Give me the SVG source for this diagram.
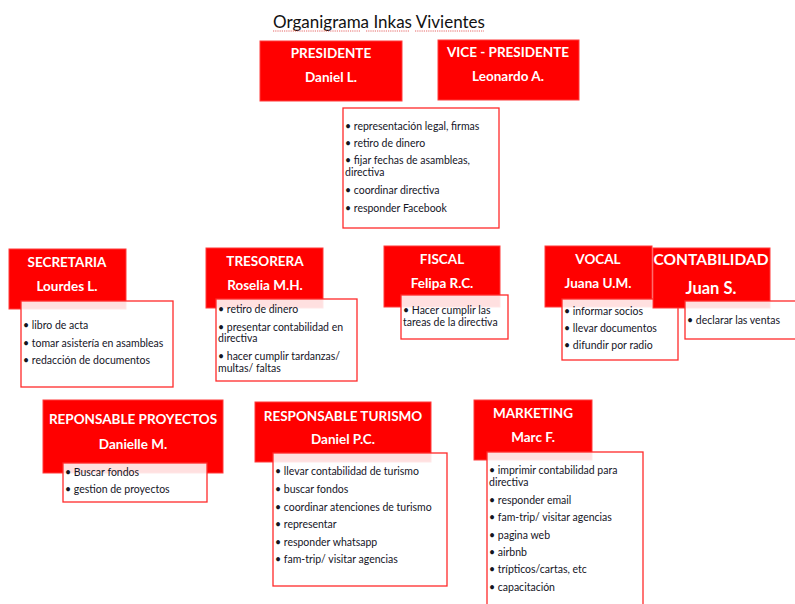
<svg xmlns="http://www.w3.org/2000/svg" width="795" height="604" viewBox="0 0 795 604">
  <style>
    .hdr { fill: #ff0000; stroke: #ff3b3b; stroke-width: 1; }
    .ht { font-family: Lato, "Open Sans", "Liberation Sans", sans-serif; font-weight: bold; font-size: 13.5px; fill: #ffffff; text-anchor: middle; }
    .lst { fill: #ffffff; fill-opacity: 0.88; stroke: #ff2a2a; stroke-width: 1.3; }
    .lt { font-family: Lato, "Open Sans", "Liberation Sans", sans-serif; font-size: 10.5px; fill: #15151f; }
    .title { font-family: Lato, "Open Sans", "Liberation Sans", sans-serif; font-size: 17px; fill: #111111; }
    .squig { fill: none; stroke: #e04040; stroke-width: 0.8; stroke-dasharray: 1.2 1; }
  </style>

  <!-- title -->
  <g id="title">
    <text class="title" x="273" y="28">Organigrama Inkas Vivientes</text>
    <line class="squig" x1="273" y1="31" x2="360" y2="31"/>
    <line class="squig" x1="366" y1="31" x2="410" y2="31"/>
    <line class="squig" x1="415" y1="31" x2="484" y2="31"/>
  </g>

  <!-- top level -->
  <g id="presidente">
    <rect class="hdr" x="260" y="41" width="142" height="60"/>
    <text class="ht" x="331" y="58">PRESIDENTE</text>
    <text class="ht" x="331" y="82">Daniel L.</text>
  </g>
  <g id="vicepresidente">
    <rect class="hdr" x="438" y="40" width="141" height="60"/>
    <text class="ht" x="508" y="57">VICE - PRESIDENTE</text>
    <text class="ht" x="508" y="81">Leonardo A.</text>
  </g>
  <g id="presidencia-tareas">
    <rect class="lst" x="343" y="108" width="156" height="120"/>
    <text class="lt" x="345" y="130">• representación legal, firmas</text>
    <text class="lt" x="345" y="147">• retiro de dinero</text>
    <text class="lt" x="345" y="164">• fijar fechas de asambleas,</text>
    <text class="lt" x="345" y="176">directiva</text>
    <text class="lt" x="345" y="194">• coordinar directiva</text>
    <text class="lt" x="345" y="212">• responder Facebook</text>
  </g>

  <!-- second level -->
  <g id="secretaria">
    <rect class="hdr" x="9" y="249" width="117" height="60"/>
    <text class="ht" x="67" y="267">SECRETARIA</text>
    <text class="ht" x="67" y="291">Lourdes L.</text>
    <rect class="lst" x="21" y="301" width="152" height="86"/>
    <text class="lt" x="23" y="329">• libro de acta</text>
    <text class="lt" x="23" y="347">• tomar asistería en asambleas</text>
    <text class="lt" x="23" y="364">• redacción de documentos</text>
  </g>
  <g id="tresorera">
    <rect class="hdr" x="206" y="248" width="117" height="60"/>
    <text class="ht" x="265" y="266">TRESORERA</text>
    <text class="ht" x="265" y="290">Roselia M.H.</text>
    <rect class="lst" x="216" y="299" width="141" height="82"/>
    <text class="lt" x="218" y="313">• retiro de dinero</text>
    <text class="lt" x="218" y="331">• presentar contabilidad en</text>
    <text class="lt" x="218" y="342">directiva</text>
    <text class="lt" x="218" y="360">• hacer cumplir tardanzas/</text>
    <text class="lt" x="218" y="372">multas/ faltas</text>
  </g>
  <g id="fiscal">
    <rect class="hdr" x="384" y="246" width="116" height="61"/>
    <text class="ht" x="442" y="264">FISCAL</text>
    <text class="ht" x="442" y="288">Felipa R.C.</text>
    <rect class="lst" x="401" y="295" width="107" height="44"/>
    <text class="lt" x="403" y="314">• Hacer cumplir las</text>
    <text class="lt" x="403" y="326">tareas de la directiva</text>
  </g>
  <g id="vocal">
    <rect class="hdr" x="545" y="246" width="107" height="61"/>
    <text class="ht" x="598" y="264">VOCAL</text>
    <text class="ht" x="598" y="288">Juana U.M.</text>
    <rect class="lst" x="562" y="299" width="116" height="61"/>
    <text class="lt" x="564" y="315">• informar socios</text>
    <text class="lt" x="564" y="332">• llevar documentos</text>
    <text class="lt" x="564" y="349">• difundir por radio</text>
  </g>
  <g id="contabilidad">
    <rect class="hdr" x="653" y="248" width="117" height="60"/>
    <text class="ht" x="711" y="265" style="font-size:15.5px">CONTABILIDAD</text>
    <text class="ht" x="711" y="294" style="font-size:16.5px">Juan S.</text>
    <rect class="lst" x="685" y="301" width="115" height="38"/>
    <text class="lt" x="687" y="324">• declarar las ventas</text>
  </g>

  <!-- third level -->
  <g id="proyectos">
    <rect class="hdr" x="43" y="400" width="180" height="73"/>
    <text class="ht" x="133" y="424">REPONSABLE PROYECTOS</text>
    <text class="ht" x="133" y="449">Danielle M.</text>
    <rect class="lst" x="63" y="463" width="144" height="39"/>
    <text class="lt" x="65" y="476">• Buscar fondos</text>
    <text class="lt" x="65" y="493">• gestion de proyectos</text>
  </g>
  <g id="turismo">
    <rect class="hdr" x="255" y="402" width="176" height="60"/>
    <text class="ht" x="343" y="421">RESPONSABLE TURISMO</text>
    <text class="ht" x="343" y="444">Daniel P.C.</text>
    <rect class="lst" x="273" y="453" width="174" height="133"/>
    <text class="lt" x="275" y="475">• llevar contabilidad de turismo</text>
    <text class="lt" x="275" y="493">• buscar fondos</text>
    <text class="lt" x="275" y="511">• coordinar atenciones de turismo</text>
    <text class="lt" x="275" y="528">• representar</text>
    <text class="lt" x="275" y="546">• responder whatsapp</text>
    <text class="lt" x="275" y="563">• fam-trip/ visitar agencias</text>
  </g>
  <g id="marketing">
    <rect class="hdr" x="474" y="400" width="118" height="60"/>
    <text class="ht" x="533" y="418">MARKETING</text>
    <text class="ht" x="533" y="442">Marc F.</text>
    <rect class="lst" x="487" y="452" width="156" height="160"/>
    <text class="lt" x="489" y="474">• imprimir contabilidad para</text>
    <text class="lt" x="489" y="486">directiva</text>
    <text class="lt" x="489" y="504">• responder email</text>
    <text class="lt" x="489" y="521">• fam-trip/ visitar agencias</text>
    <text class="lt" x="489" y="539">• pagina web</text>
    <text class="lt" x="489" y="556">• airbnb</text>
    <text class="lt" x="489" y="573">• trípticos/cartas, etc</text>
    <text class="lt" x="489" y="591">• capacitación</text>
  </g>

  <!-- no connectors are drawn between the units -->
  <g id="connectors"/>
</svg>
